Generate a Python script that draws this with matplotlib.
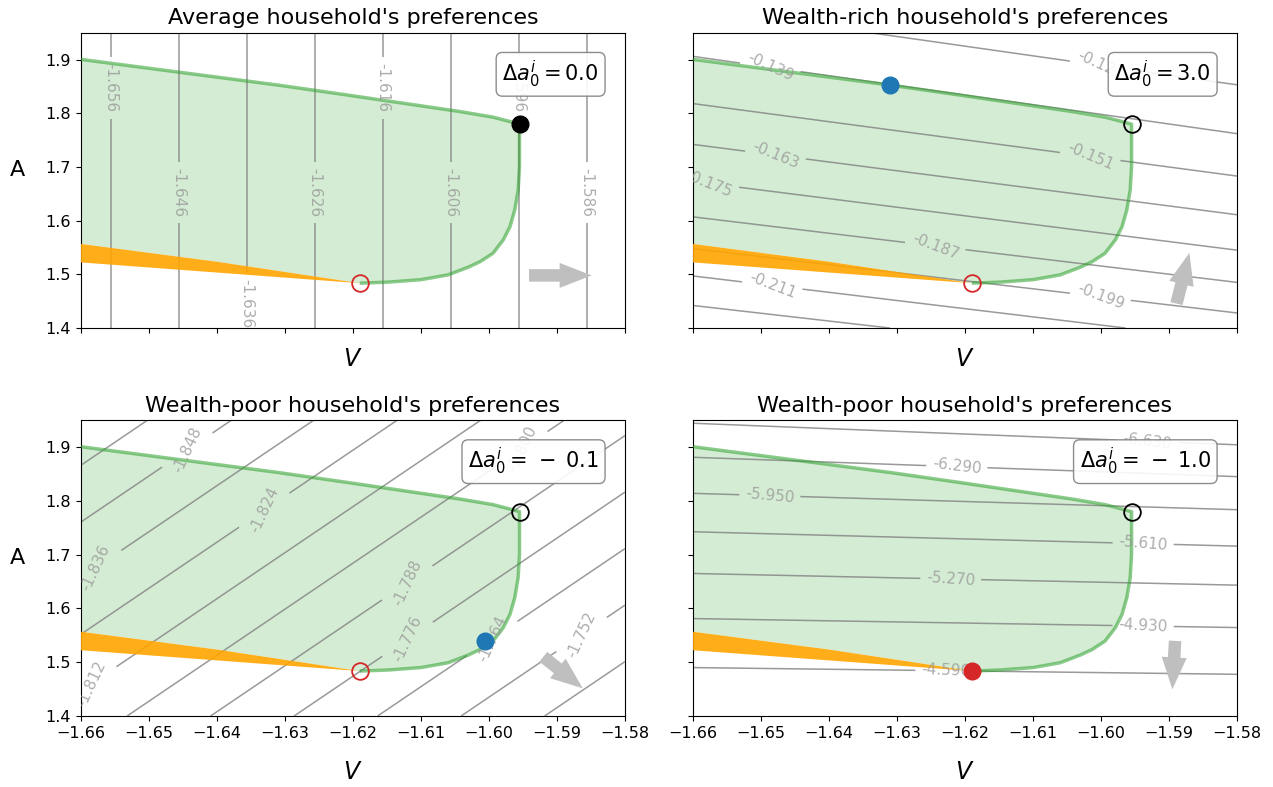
import numpy as np
import matplotlib
matplotlib.use('Agg')
import matplotlib.pyplot as plt

# limites dos eixos
V_MIN, V_MAX = -1.66, -1.58
A_MIN, A_MAX = 1.4, 1.95

# fronteira superior do conjunto viavel
upper_v = [-1.66, -1.645, -1.631, -1.6207, -1.6043, -1.5994, -1.5969, -1.5955]
upper_a = [1.9004, 1.8756, 1.8525, 1.8338, 1.8033, 1.7928, 1.7846, 1.7797]
# fronteira direita (curva) ate o ponto de minimo
right_v = [-1.5955, -1.5955, -1.5955, -1.5957, -1.5962, -1.5969, -1.5979, -1.5994,
           -1.6013, -1.6030, -1.6060, -1.6100, -1.6148, -1.619]
right_a = [1.7797, 1.7630, 1.7007, 1.6573, 1.6200, 1.5889, 1.5640, 1.5393,
           1.5236, 1.5135, 1.4990, 1.4900, 1.4855, 1.4835]
# faixa laranja
orange_top_v = [-1.66, -1.64, -1.619]
orange_top_a = [1.5566, 1.5235, 1.4835]
orange_bot_v = [-1.619, -1.66]
orange_bot_a = [1.4835, 1.5222]

# pontos marcados
opt_v, opt_a = -1.5955, 1.7797
low_v, low_a = -1.619, 1.4835
rich_v, rich_a = -1.6311, 1.8525
poor_v, poor_a = -1.6006, 1.5397

titles = ["Average household's preferences", "Wealth-rich household's preferences",
          "Wealth-poor household's preferences", "Wealth-poor household's preferences"]
delta_a = ['0.0', '3.0', r'\,-\;0.1', r'\,-\;1.0']

# curvas de nivel - painel 1 (linhas verticais, V constante)
levels_avg = [-1.6556, -1.6456, -1.6356, -1.6256, -1.6156, -1.6056, -1.5956, -1.5856]
labels_avg_a = [1.847, 1.652, 1.445, 1.652, 1.847, 1.652, 1.847, 1.652]

# painel 2: nivel, A na borda esquerda, A na borda direita
levels_rich = [-0.223, -0.211, -0.199, -0.187, -0.175, -0.163, -0.151, -0.139, -0.127]
left_rich = [1.442, 1.497, 1.548, 1.607, 1.673, 1.742, 1.818, 1.906, 1.997]
right_rich = [1.326, 1.375, 1.428, 1.485, 1.545, 1.611, 1.683, 1.762, 1.853]
labels_rich = [(-1.6484, 1.4735), (-1.6001, 1.4578), (-1.6244, 1.551), (-1.6577, 1.666),
               (-1.6479, 1.719), (-1.6016, 1.7188), (-1.6487, 1.880), (-1.6001, 1.893)]

# painel 3
levels_poor1 = [-1.860, -1.848, -1.836, -1.824, -1.812, -1.800, -1.788, -1.776, -1.764, -1.752, -1.740]
left_poor1 = [1.866, 1.7605, 1.657, 1.552, 1.447, 1.342, 1.237, 1.132, 1.027, 0.922, 0.817]
right_poor1 = [2.550, 2.4445, 2.341, 2.236, 2.131, 2.026, 1.921, 1.816, 1.711, 1.606, 1.501]
labels_poor1 = [(-1.6445, 1.8966), (-1.6577, 1.674), (-1.6332, 1.7853), (-1.6587, 1.4637),
                (-1.5950, 1.895), (-1.6121, 1.649), (-1.6121, 1.5450), (-1.5994, 1.5420),
                (-1.5864, 1.5520)]

# painel 4
levels_poor2 = [-6.630, -6.290, -5.950, -5.610, -5.270, -4.930, -4.590]
left_poor2 = [1.944, 1.8808, 1.8138, 1.7424, 1.6649, 1.5811, 1.4900]
right_poor2 = [1.904, 1.8448, 1.7834, 1.7157, 1.6432, 1.5644, 1.4775]
labels_poor2 = [(-1.5932, 1.9118), (-1.6212, 1.8653), (-1.6487, 1.8107), (-1.5938, 1.7213),
                (-1.6221, 1.6556), (-1.5938, 1.5687), (-1.6228, 1.4868)]

# setas (inicio, fim)
arrows = [((-1.5941, 1.498), (-1.5849, 1.498)),
          ((-1.5889, 1.4455), (-1.5870, 1.540)),
          ((-1.5920, 1.510), (-1.5862, 1.4514)),
          ((-1.5891, 1.5396), (-1.5895, 1.4496))]

vv = np.linspace(V_MIN, V_MAX, 300)
aa = np.linspace(A_MIN, A_MAX, 300)
VV, AA = np.meshgrid(vv, aa)

# fator usado para girar os rotulos (o original calcula o angulo na grade de indices)
FATOR_ROT = 3.17


def campo_por_linhas(levels, left, right):
    # monta um campo cujas curvas de nivel passam pelas retas lidas
    levels = np.asarray(levels, dtype=float)
    left = np.asarray(left, dtype=float)
    right = np.asarray(right, dtype=float)
    Z = np.empty_like(VV)
    for j, v in enumerate(vv):
        t = (v - V_MIN) / (V_MAX - V_MIN)
        pos = left + (right - left) * t
        ordem = np.argsort(pos)
        p = pos[ordem]
        z = levels[ordem]
        s0 = (z[1] - z[0]) / (p[1] - p[0])
        s1 = (z[-1] - z[-2]) / (p[-1] - p[-2])
        p = np.r_[p[0] - 1.0, p, p[-1] + 1.0]
        z = np.r_[z[0] - s0, z, z[-1] + s1]
        Z[:, j] = np.interp(aa, p, z)
    return Z


def desenha_regiao(ax):
    fill_v = upper_v + right_v[1:] + orange_top_v[::-1][1:]
    fill_a = upper_a + right_a[1:] + orange_top_a[::-1][1:]
    ax.fill(fill_v, fill_a, color='tab:green', alpha=0.2, lw=0, zorder=1)
    ax.fill(orange_top_v + orange_bot_v[1:], orange_top_a + orange_bot_a[1:],
            color='orange', alpha=0.9, lw=0, zorder=3)
    ax.plot(upper_v + right_v[1:], upper_a + right_a[1:], color='tab:green',
            alpha=0.55, lw=2.5, zorder=3, solid_capstyle='butt')


def desenha_contorno(ax, Z, levels, manual):
    cs = ax.contour(VV, AA, Z, levels=levels, colors='gray', linewidths=1.1,
                    linestyles='solid', alpha=0.8, zorder=2)
    textos = ax.clabel(cs, fmt='%.3f', manual=manual, inline=True, fontsize=11,
                       colors='#999999', inline_spacing=6)
    for t in textos:
        ang = np.deg2rad(t.get_rotation())
        if abs(np.cos(ang)) < 1e-3:
            t.set_rotation(-90)
        else:
            t.set_rotation(np.rad2deg(np.arctan(np.tan(ang) * FATOR_ROT)))


def desenha_seta(ax, inicio, fim):
    ax.annotate('', xy=fim, xytext=inicio,
                arrowprops=dict(facecolor='#bfbfbf', edgecolor='none',
                                width=9, headwidth=18, headlength=23, shrink=0),
                zorder=4)


fig = plt.figure(figsize=(12.73, 7.87), dpi=100)
rects = [[0.0636, 0.5832, 0.4273, 0.3752], [0.5444, 0.5832, 0.4273, 0.3752],
         [0.0636, 0.0902, 0.4273, 0.3761], [0.5444, 0.0902, 0.4273, 0.3761]]
axes = []
for i, r in enumerate(rects):
    if i == 0:
        ax = fig.add_axes(r)
    else:
        ax = fig.add_axes(r, sharex=axes[0], sharey=axes[0])
    axes.append(ax)

campos = [VV,
          campo_por_linhas(levels_rich, left_rich, right_rich),
          campo_por_linhas(levels_poor1, left_poor1, right_poor1),
          campo_por_linhas(levels_poor2, left_poor2, right_poor2)]
niveis = [levels_avg, levels_rich, levels_poor1, levels_poor2]
rotulos = [list(zip(levels_avg, labels_avg_a)), labels_rich, labels_poor1, labels_poor2]

for i, ax in enumerate(axes):
    desenha_regiao(ax)
    desenha_contorno(ax, campos[i], niveis[i], rotulos[i])
    desenha_seta(ax, arrows[i][0], arrows[i][1])

    # pontos
    if i == 0:
        ax.plot(opt_v, opt_a, 'o', color='black', ms=12, zorder=5)
    else:
        ax.plot(opt_v, opt_a, 'o', mfc='none', mec='black', mew=1.3, ms=12, zorder=5)
    if i == 3:
        ax.plot(low_v, low_a, 'o', color='tab:red', ms=12, zorder=5)
    else:
        ax.plot(low_v, low_a, 'o', mfc='none', mec='tab:red', mew=1.3, ms=12, zorder=5)
    if i == 1:
        ax.plot(rich_v, rich_a, 'o', color='tab:blue', ms=12, zorder=5)
    if i == 2:
        ax.plot(poor_v, poor_a, 'o', color='tab:blue', ms=12, zorder=5)

    ax.text(0.952, 0.912, r'$\Delta a_0^i = %s$' % delta_a[i], transform=ax.transAxes,
            ha='right', va='top', fontsize=15, zorder=6,
            bbox=dict(boxstyle='round', facecolor='white', edgecolor='gray', alpha=0.9))

    ax.set_title(titles[i], fontsize=16)
    if i < 2:
        ax.set_xlabel('$V$', fontsize=17, labelpad=10)
        plt.setp(ax.get_xticklabels(), visible=False)
    else:
        ax.set_xlabel('$V$', fontsize=17, labelpad=14)
    if i % 2 == 0:
        ax.set_ylabel('A', fontsize=16, rotation=0, labelpad=20)
    else:
        plt.setp(ax.get_yticklabels(), visible=False)
    ax.tick_params(labelsize=11.5)

axes[0].set_xlim(V_MIN, V_MAX)
axes[0].set_ylim(A_MIN, A_MAX)
axes[0].set_xticks(np.arange(-1.66, -1.5799, 0.01))
axes[0].set_yticks([1.4, 1.5, 1.6, 1.7, 1.8, 1.9])

fig.savefig('out.png', dpi=100)
